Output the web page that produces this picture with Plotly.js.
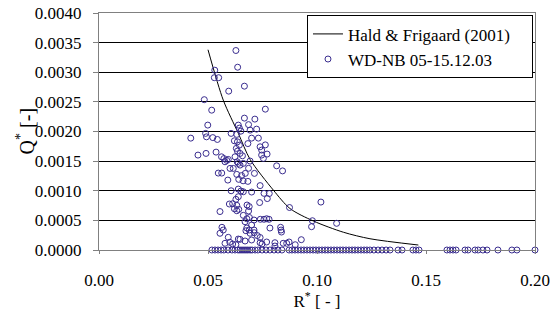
<!DOCTYPE html>
<html>
<head>
<meta charset="utf-8">
<script src="https://cdn.plot.ly/plotly-3.0.1.min.js"></script>
<style>html,body{margin:0;padding:0;background:#fff;}#chart{width:560px;height:311px;}</style>
</head>
<body>
<div id="chart"></div>
<script>
// Hald & Frigaard (2001) curve
const curveR = [0.050, 0.057, 0.0639, 0.0693, 0.080, 0.0876, 0.0983, 0.1121, 0.1243, 0.1465];
const curveQ = [0.00338, 0.00253, 0.00197, 0.00153, 0.00101, 0.00070, 0.00049, 0.00030, 0.00019, 0.000084];

// Measured points WD-NB 05-15.12.03 with Q* > 0
const measR = [
0.0628,0.0636,0.0531,0.0529,0.0549,0.0667,0.0595,0.0483,0.0517,0.0763,
0.0667,0.0715,0.0499,0.0639,0.0686,0.0644,0.0723,0.0651,0.0693,0.0606,
0.0632,0.0421,0.0489,0.0493,0.0522,0.0543,0.0700,0.0731,0.0635,0.0621,
0.0644,0.0683,0.0739,0.0763,0.0630,0.0635,0.0746,0.0537,0.0491,0.0454,
0.0562,0.0647,0.0658,0.0624,0.0771,0.0746,0.0754,0.0573,0.0586,0.0593,
0.0578,0.0634,0.0647,0.0662,0.0639,0.0693,0.0815,0.0842,0.0601,0.0616,
0.0686,0.0547,0.0563,0.0632,0.0654,0.0671,0.0713,0.0591,0.0641,0.0661,
0.0683,0.0739,0.0606,0.0639,0.0651,0.0662,0.0700,0.0757,0.0781,0.0772,
0.0628,0.0639,0.0598,0.0613,0.0632,0.0621,0.0632,0.0641,0.0679,0.0689,
0.0686,0.0737,0.0874,0.1018,0.0555,0.0662,0.0678,0.0690,0.0711,0.0740,
0.0757,0.0780,0.0769,0.0670,0.0700,0.0979,0.0975,0.1090,0.0564,0.0570,
0.0678,0.0689,0.0674,0.0711,0.0784,0.0833,0.0837,0.0835,0.0555,0.0712,
0.0726,0.0739,0.0593,0.0639,0.0647,0.0693,0.0700,0.0578,0.0600,0.0613,
0.0628,0.0670,0.0739,0.0748,0.0769,0.0807,0.0845,0.0872,0.0900,0.0928,
0.0861,0.0807
];
const measQ = [
0.003367,0.003085,0.003035,0.002908,0.002908,0.002765,0.002681,0.002537,0.002360,0.002377,
0.002226,0.002209,0.002108,0.002108,0.002116,0.002057,0.002040,0.002006,0.002023,0.001968,
0.001951,0.001888,0.001968,0.001910,0.001897,0.001866,0.001888,0.001888,0.001826,0.001843,
0.001770,0.001796,0.001742,0.001774,0.001715,0.001669,0.001686,0.001652,0.001630,0.001602,
0.001573,0.001630,0.001590,0.001573,0.001619,0.001602,0.001546,0.001543,0.001512,0.001529,
0.001489,0.001489,0.001433,0.001462,0.001462,0.001501,0.001421,0.001335,0.001377,0.001377,
0.001379,0.001298,0.001298,0.001276,0.001256,0.001293,0.001293,0.001180,0.001192,0.001168,
0.001158,0.001087,0.001000,0.001028,0.000995,0.000983,0.000978,0.000956,0.000953,0.000868,
0.000855,0.000899,0.000776,0.000781,0.000754,0.000696,0.000663,0.000686,0.000759,0.000733,
0.000658,0.000801,0.000717,0.000809,0.000649,0.000585,0.000528,0.000548,0.000506,0.000518,
0.000518,0.000518,0.000528,0.000477,0.000422,0.000494,0.000393,0.000450,0.000383,0.000337,
0.000371,0.000337,0.000325,0.000337,0.000371,0.000383,0.000303,0.000337,0.000282,0.000292,
0.000244,0.000211,0.000214,0.000185,0.000180,0.000282,0.000169,0.000113,0.000130,0.000101,
0.000089,0.000152,0.000123,0.000101,0.000135,0.000123,0.000113,0.000135,0.000089,0.000174,
0.000113,0.000067
];

// Measured points with Q* = 0
const zeroR = [
0.0518,0.0532,0.0546,0.0560,0.0573,0.0592,0.0610,0.0624,0.0638,0.0647,
0.0656,0.0665,0.0674,0.0683,0.0693,0.0702,0.0716,0.0729,0.0748,0.0766,
0.0784,0.0803,0.0821,0.0839,0.0872,0.0885,0.0899,0.0913,0.0927,0.0940,
0.0954,0.0968,0.0982,0.0995,0.1009,0.1023,0.1037,0.1050,0.1064,0.1078,
0.1092,0.1106,0.1119,0.1133,0.1147,0.1161,0.1174,0.1188,0.1202,0.1216,
0.1229,0.1243,0.1261,0.1280,0.1298,0.1317,0.1335,0.1372,0.1390,0.1440,
0.1454,0.1468,0.1596,0.1610,0.1624,0.1638,0.1679,0.1693,0.1725,0.1739,
0.1761,0.1780,0.1830,0.1894,0.1917,0.2000
];

const allR = measR.concat(zeroR);
const allQ = measQ.concat(zeroR.map(() => 0));

const xTicks = [0, 0.05, 0.10, 0.15, 0.20];
const xTickText = ['0.00', '0.05', '0.10', '0.15', '0.20'];
const yTicks = [0, 0.0005, 0.0010, 0.0015, 0.0020, 0.0025, 0.0030, 0.0035, 0.0040];
const yTickText = ['0.0000','0.0005','0.0010','0.0015','0.0020','0.0025','0.0030','0.0035','0.0040'];

const serif = 'Liberation Serif';
const pad = '\u00a0\u00a0\u00a0\u00a0';

const traces = [
  {
    x: curveR, y: curveQ, type: 'scatter', mode: 'lines',
    name: 'Hald & Frigaard (2001)' + pad,
    line: {color: '#000000', width: 1, shape: 'spline', smoothing: 0.8}
  },
  {
    x: allR, y: allQ, type: 'scatter', mode: 'markers',
    name: 'WD-NB 05-15.12.03',
    marker: {symbol: 'circle-open', size: 6, color: '#3a2d8f', line: {width: 1, color: '#3a2d8f'}},
    cliponaxis: false
  }
];

const layout = {
  width: 560, height: 311,
  margin: {l: 99, r: 25, t: 13, b: 61},
  paper_bgcolor: '#ffffff', plot_bgcolor: '#ffffff',
  font: {family: serif, size: 17, color: '#000000'},
  showlegend: true,
  legend: {
    x: 0.9954, xanchor: 'right', y: 0.99, yanchor: 'top',
    bgcolor: '#ffffff', bordercolor: '#000000', borderwidth: 1,
    font: {family: serif, size: 17, color: '#000000'},
    itemwidth: 30, tracegroupgap: 0
  },
  xaxis: {
    range: [0, 0.2], tickvals: xTicks, ticktext: xTickText,
    showgrid: false, zeroline: false,
    showline: true, linecolor: '#808080', linewidth: 1, mirror: true,
    ticks: 'outside', ticklen: 3, tickcolor: '#808080',
    ticklabelstandoff: 12,
    tickfont: {family: serif, size: 17, color: '#000000'},
    title: {text: 'R<sup>*</sup> [ - ]', font: {family: serif, size: 17, color: '#000000'}, standoff: 0}
  },
  yaxis: {
    range: [0, 0.004], tickvals: yTicks, ticktext: yTickText,
    showgrid: true, gridcolor: '#000000', gridwidth: 1, zeroline: false,
    showline: true, linecolor: '#808080', linewidth: 1, mirror: true,
    ticks: 'outside', ticklen: 5, tickcolor: '#808080',
    ticklabelstandoff: 8,
    tickfont: {family: serif, size: 17, color: '#000000'}
  },
  annotations: [
    {
      text: 'Q<sup>*</sup> [-]', textangle: -90, showarrow: false,
      xref: 'paper', yref: 'paper', x: -0.17, y: 0.5,
      xanchor: 'center', yanchor: 'middle',
      font: {family: serif, size: 20, color: '#000000'}
    }
  ]
};

Plotly.newPlot('chart', traces, layout, {staticPlot: true, displayModeBar: false});
</script>
</body>
</html>
